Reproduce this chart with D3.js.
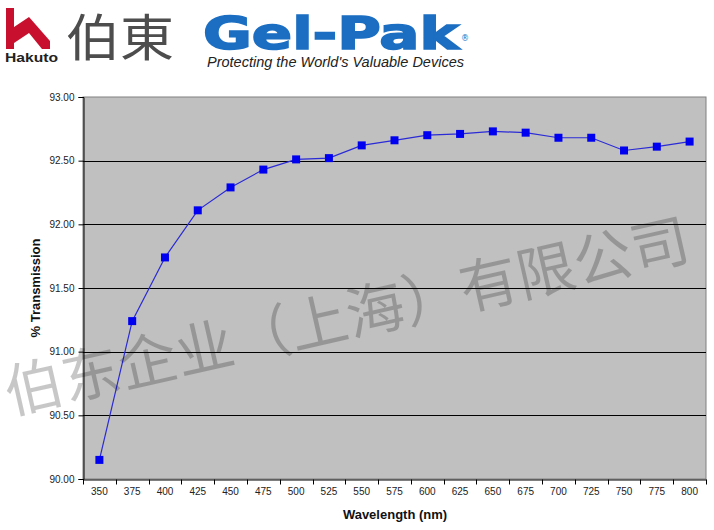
<!DOCTYPE html>
<html><head><meta charset="utf-8">
<script src="https://cdn.jsdelivr.net/npm/d3@7"></script>
<style>body{margin:0;background:#fff}svg{display:block}</style>
</head><body><svg id="c" width="714" height="530"></svg>
<script>
const wavelengths = [350,375,400,425,450,475,500,525,550,575,600,625,650,675,700,725,750,775,800];
const transmission = [90.15,91.24,91.74,92.11,92.29,92.43,92.51,92.52,92.62,92.66,92.70,92.71,92.73,92.72,92.68,92.68,92.58,92.61,92.65];
const yTicks = [90.0,90.5,91.0,91.5,92.0,92.5,93.0];
const xTitle = "Wavelength (nm)";
const yTitle = "% Transmission";
const watermark = "伯东企业（上海）有限公司";

const svg = d3.select("#c");
const L=83,R=706,T=97,B=479;
const x = d3.scaleBand().domain(wavelengths).range([L,R]);
const y = d3.scaleLinear().domain([90,93]).range([B,T]);

// header logos
const g0 = svg.append("g");
g0.append("path").attr("d","M6,8 L14,8 L14,27 L29,17 L50,41 L50,49 L42,49 L29,33 L14,43 L14,49 L6,49 Z").attr("fill","#c8102e");
g0.append("text").attr("x",5).attr("y",62).attr("font-family","Liberation Sans, Arial").attr("font-weight","bold").attr("font-size",13).attr("fill","#222").attr("textLength",53).attr("lengthAdjust","spacingAndGlyphs").text("Hakuto");
g0.append("text").attr("x",66).attr("y",56).attr("font-family","Noto Sans CJK JP").attr("font-size",50).attr("fill","#4d4d4d").attr("textLength",108).attr("lengthAdjust","spacingAndGlyphs").text("伯東");
g0.append("text").attr("x",203).attr("y",49).attr("font-family","DejaVu Sans").attr("font-weight","bold").attr("font-size",44).attr("fill","#1b6ec2").attr("stroke","#1b6ec2").attr("stroke-width",1.6).attr("textLength",256).attr("lengthAdjust","spacingAndGlyphs").text("Gel-Pak");
g0.append("text").attr("x",461).attr("y",41).attr("font-family","DejaVu Sans").attr("font-size",8).attr("fill","#1b6ec2").text("®");
g0.append("text").attr("x",207).attr("y",67).attr("font-family","Liberation Sans, Arial").attr("font-style","italic").attr("font-size",14).attr("fill","#222").attr("textLength",257).attr("lengthAdjust","spacingAndGlyphs").text("Protecting the World's Valuable Devices");

// plot area
svg.append("rect").attr("x",L).attr("y",T).attr("width",R-L).attr("height",B-T).attr("fill","#c0c0c0").attr("stroke","#808080");
svg.append("g").selectAll("line").data(yTicks.filter(d=>d>90&&d<93)).join("line")
  .attr("x1",L).attr("x2",R).attr("y1",d=>Math.round(y(d))+0.5).attr("y2",d=>Math.round(y(d))+0.5).attr("stroke","#000");

const fontAx = "Liberation Sans, Arial, sans-serif";
const ya = svg.append("g").attr("transform",`translate(${L+0.5},0)`)
  .call(d3.axisLeft(y).tickValues(yTicks).tickFormat(d3.format(".2f")).tickSize(5).tickPadding(4));
ya.select(".domain").attr("stroke","#000");
ya.selectAll("text").attr("font-family",fontAx).attr("font-size",10).attr("fill","#222");

const xa = svg.append("g").attr("transform",`translate(0,${B+0.5})`)
  .call(d3.axisBottom(x).tickSize(0).tickPadding(8));
xa.select(".domain").attr("stroke","#000");
xa.selectAll("text").attr("font-family",fontAx).attr("font-size",10).attr("fill","#222");
xa.selectAll(".tickmark").data(wavelengths.map(d=>x(d)).concat([R])).join("line").attr("class","tickmark")
  .attr("x1",d=>Math.round(d)+0.5).attr("x2",d=>Math.round(d)+0.5).attr("y1",0).attr("y2",5).attr("stroke","#000");

// series
const cx = d=>x(d)+x.bandwidth()/2;
svg.append("path").datum(wavelengths.map((w,i)=>[cx(w),y(transmission[i])]))
  .attr("d",d3.line()).attr("fill","none").attr("stroke","#2a2ad6").attr("stroke-width",1.2);
svg.append("g").selectAll("rect").data(wavelengths).join("rect")
  .attr("x",(w)=>cx(w)-4).attr("y",(w,i)=>y(transmission[i])-4).attr("width",8).attr("height",8).attr("fill","#0000f0");

// titles
svg.append("text").attr("x",395).attr("y",519).attr("text-anchor","middle").attr("font-family",fontAx).attr("font-weight","bold").attr("font-size",13).attr("fill","#111").text(xTitle);
svg.append("text").attr("transform","translate(40,288) rotate(-90)").attr("text-anchor","middle").attr("font-family",fontAx).attr("font-weight","bold").attr("font-size",13).attr("fill","#111").text(yTitle);

// watermark
svg.append("text").attr("transform","translate(10,414) rotate(-12.8)")
  .attr("font-family","Noto Sans CJK SC").attr("font-size",58).attr("fill","#000").attr("fill-opacity",0.22)
  .attr("textLength",700).attr("lengthAdjust","spacingAndGlyphs").text(watermark);
</script></body></html>
